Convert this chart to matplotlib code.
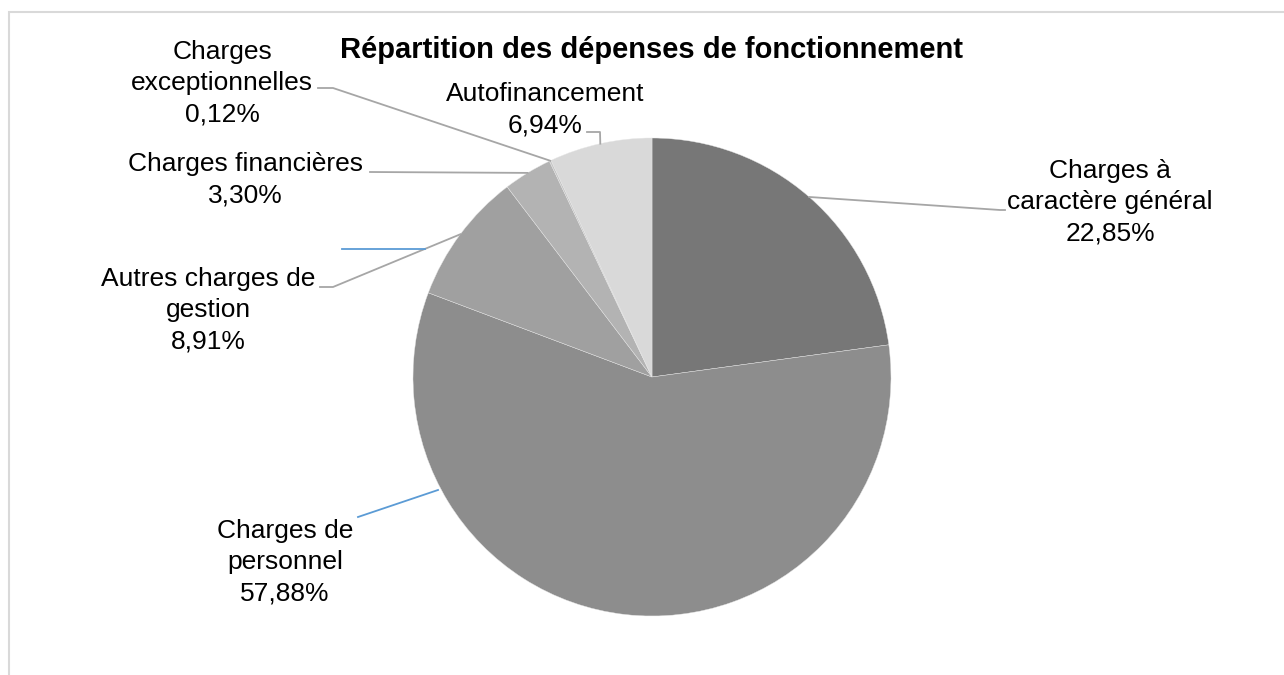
import numpy as np
import matplotlib
matplotlib.use("Agg")
import matplotlib.pyplot as plt

plt.rcParams['font.family'] = ['Liberation Sans', 'DejaVu Sans']

W, H = 1284, 675

# ---------- data ----------
title = "Répartition des dépenses de fonctionnement"
categories = ["Charges à\ncaractère général", "Charges de\npersonnel", "Autres charges de\ngestion",
              "Charges financières", "Charges\nexceptionnelles", "Autofinancement"]
shares = [22.85, 57.88, 8.91, 3.30, 0.12, 6.94]
colors = ["#777777", "#8d8d8d", "#a0a0a0", "#b3b3b3", "#c6c6c6", "#d9d9d9"]

# ---------- layout (pixel coords, y down) ----------
center_px = (652, 377)
radius = 239
# label centre, elbow points of the grey leader (from label side toward the pie)
label_pos = [(1110, 202), (285, 562), (208, 310), (245, 180), (222, 83), (545, 110)]
leader_elbows = [[(1005, 210), (1000, 210)], None, [(320, 287), (333, 287)],
                 [(370, 172)], [(318, 88), (333, 88)], [(587, 132), (600, 132)]]
# hand-drawn blue lines in the original
blue_lines = [[(358, 517), (438, 490)], [(342, 249), (425, 249)]]


def px(x, y):
    return x, H - y


fig = plt.figure(figsize=(W / 100, H / 100), dpi=100, facecolor="white")
ax = fig.add_axes([0, 0, 1, 1])
ax.set_xlim(0, W); ax.set_ylim(0, H); ax.set_aspect("equal"); ax.axis("off")

# frame of the chart area (cropped)
ax.plot(*zip(px(9, H + 5), px(9, 12), px(W + 5, 12)), color="#d9d9d9", lw=1.5,
        solid_joinstyle="miter", clip_on=False)

cx, cy = px(*center_px)
wedges, _ = ax.pie(shares, colors=colors, startangle=90, counterclock=False,
                   center=(cx, cy), radius=radius, frame=True,
                   wedgeprops=dict(edgecolor="#e6e6e6", linewidth=0.3))
ax.set_xlim(0, W); ax.set_ylim(0, H); ax.axis("off")

for i, (w, cat, val) in enumerate(zip(wedges, categories, shares)):
    lx, ly = px(*label_pos[i])
    ax.text(lx, ly, f"{cat}\n{val:.2f}%".replace(".", ","), ha="center", va="center",
            fontsize=19, linespacing=1.38, color="black")
    if leader_elbows[i] is None:
        continue
    mid = np.radians((w.theta1 + w.theta2) / 2)
    anchor = (cx + radius * np.cos(mid), cy + radius * np.sin(mid))
    pts = [px(*p) for p in leader_elbows[i]] + [anchor]
    ax.plot(*zip(*pts), color="#a6a6a6", lw=1.3)

for seg in blue_lines:
    ax.plot(*zip(*[px(*p) for p in seg]), color="#5b9bd5", lw=1.3)

ax.text(*px(651, 58), title, ha="center", va="baseline", fontsize=21, fontweight="bold")

fig.savefig("out.png", dpi=100, facecolor="white")
